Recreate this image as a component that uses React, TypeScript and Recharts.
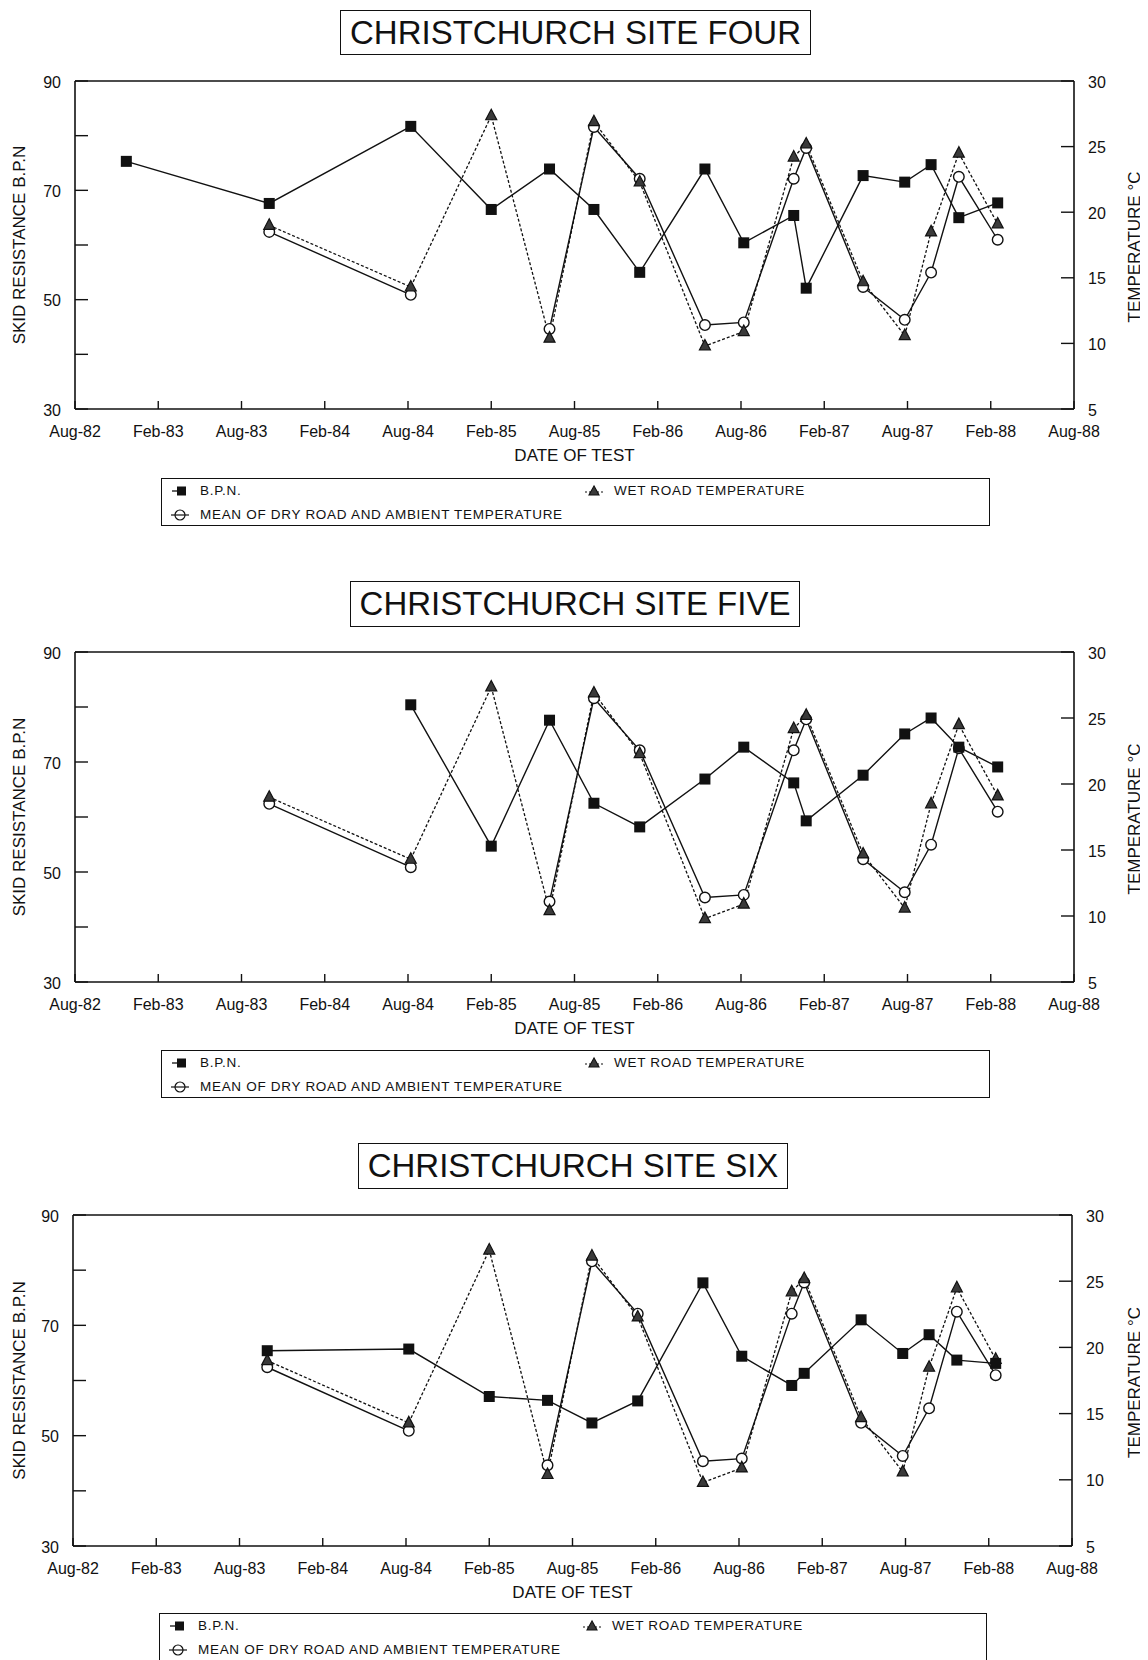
import React from "react";
import { LineChart, Line, XAxis, YAxis, ReferenceLine } from "recharts";

// 三个 Christchurch 试验点的摆值 (B.P.N) 与路面温度

// 试验日期：自 1982 年 8 月起的月数
const testMonths = [3.7, 14.0, 24.2, 30.0, 34.2, 37.4, 40.7, 45.4, 48.2, 51.8, 52.7, 56.8, 59.8, 61.7, 63.7, 66.5];

// 温度（°C），三个站点共用
const wetRoadTemp = [null, 19.0, 14.3, 27.35, 10.4, 26.9, 22.3, 9.8, 10.9, 24.2, 25.2, 14.7, 10.6, 18.5, 24.5, 19.1];
const meanDryAmbientTemp = [null, 18.5, 13.7, null, 11.1, 26.5, 22.55, 11.4, 11.6, 22.55, 24.9, 14.3, 11.8, 15.4, 22.7, 17.9];

// 各站点 B.P.N
const bpnSiteFour = [75.3, 67.6, 81.7, 66.5, 73.9, 66.5, 55.0, 73.9, 60.4, 65.4, 52.1, 72.7, 71.5, 74.7, 65.0, 67.7];
const bpnSiteFive = [null, null, 80.4, 54.7, 77.6, 62.5, 58.2, 66.9, 72.7, 66.2, 59.3, 67.6, 75.1, 78.0, 72.7, 69.1];
const bpnSiteSix = [null, 65.4, 65.7, 57.1, 56.4, 52.3, 56.3, 77.7, 64.4, 59.1, 61.3, 71.0, 64.9, 68.3, 63.7, 63.1];

// 坐标轴刻度
const monthTicks = [0, 6, 12, 18, 24, 30, 36, 42, 48, 54, 60, 66, 72];
const monthLabels = ["Aug-82", "Feb-83", "Aug-83", "Feb-84", "Aug-84", "Feb-85", "Aug-85", "Feb-86", "Aug-86", "Feb-87", "Aug-87", "Feb-88", "Aug-88"];
const bpnTicks = [30, 40, 50, 60, 70, 80, 90];
const bpnLabelled = [30, 50, 70, 90];
const tempTicks = [5, 10, 15, 20, 25, 30];

const INK = "#111";
const FONT = '"Liberation Sans", Arial, Helvetica, sans-serif';
const PAGE_OFF = 8; // body 默认 margin
const CHART_W = 1140; // 从页面 x=8 一直画到 1148
const TOP_PAD = 20;
const X_AXIS_H = 60;

interface PanelCfg {
  title: string;
  bpn: (number | null)[];
  titleBox: { left: number; top: number; width: number; height: number };
  plot: { left: number; right: number; top: number; bottom: number };
  legend: { left: number; top: number; width: number; height: number };
}

// 页面坐标（像素）
const panels: PanelCfg[] = [
  {
    title: "CHRISTCHURCH SITE FOUR",
    bpn: bpnSiteFour,
    titleBox: { left: 340, top: 10, width: 471, height: 45 },
    plot: { left: 75, right: 1074, top: 81, bottom: 409 },
    legend: { left: 161, top: 478, width: 829, height: 48 },
  },
  {
    title: "CHRISTCHURCH SITE FIVE",
    bpn: bpnSiteFive,
    titleBox: { left: 350, top: 581, width: 450, height: 46 },
    plot: { left: 75, right: 1074, top: 652, bottom: 982 },
    legend: { left: 161, top: 1050, width: 829, height: 48 },
  },
  {
    title: "CHRISTCHURCH SITE SIX",
    bpn: bpnSiteSix,
    titleBox: { left: 358, top: 1143, width: 430, height: 46 },
    plot: { left: 73, right: 1072, top: 1215, bottom: 1546 },
    legend: { left: 159, top: 1613, width: 828, height: 48 },
  },
];

function MonthTick(props: any) {
  const { x, y, payload } = props;
  const i = monthTicks.indexOf(payload.value);
  return (
    <g>
      <line x1={x} x2={x} y1={y} y2={y - 8} stroke={INK} strokeWidth={1.4} />
      <text x={x} y={y + 22} textAnchor="middle" dominantBaseline="central" fontSize={16} fontFamily={FONT} fill={INK}>
        {monthLabels[i]}
      </text>
    </g>
  );
}

function BpnTick(props: any) {
  const { x, y, payload } = props;
  const v = payload.value;
  return (
    <g>
      <line x1={x} x2={x + 13} y1={y} y2={y} stroke={INK} strokeWidth={1.4} />
      {bpnLabelled.includes(v) && (
        <text x={x - 14} y={y + 1} textAnchor="end" dominantBaseline="central" fontSize={16} fontFamily={FONT} fill={INK}>
          {v}
        </text>
      )}
    </g>
  );
}

function TempTick(props: any) {
  const { x, y, payload } = props;
  return (
    <g>
      <line x1={x} x2={x - 13} y1={y} y2={y} stroke={INK} strokeWidth={1.4} />
      <text x={x + 14} y={y + 1} textAnchor="start" dominantBaseline="central" fontSize={16} fontFamily={FONT} fill={INK}>
        {payload.value}
      </text>
    </g>
  );
}

function squareDot(p: any) {
  const { cx, cy, key } = p;
  if (cx == null || cy == null) return <g key={key} />;
  return <rect key={key} x={cx - 5.5} y={cy - 5.5} width={11} height={11} fill={INK} />;
}

function triangleDot(p: any) {
  const { cx, cy, key } = p;
  if (cx == null || cy == null) return <g key={key} />;
  return (
    <polygon
      key={key}
      points={`${cx},${cy - 6.5} ${cx - 5.5},${cy + 4} ${cx + 5.5},${cy + 4}`}
      fill="#3a3a3a"
      stroke={INK}
      strokeWidth={1.2}
    />
  );
}

function circleDot(p: any) {
  const { cx, cy, key } = p;
  if (cx == null || cy == null) return <g key={key} />;
  return <circle key={key} cx={cx} cy={cy} r={5.3} fill="#fff" stroke={INK} strokeWidth={1.4} />;
}

// 图例中的小图标：短线 + 标记
function LegendIcon({ kind }: { kind: "bpn" | "wet" | "mean" }) {
  return (
    <svg width={20} height={14} style={{ display: "block" }}>
      {kind === "bpn" && (
        <>
          <line x1={2} x2={12} y1={7} y2={7} stroke={INK} strokeWidth={1.3} />
          <rect x={7} y={2.5} width={9} height={9} fill={INK} />
        </>
      )}
      {kind === "wet" && (
        <>
          <line x1={1} x2={19} y1={8} y2={8} stroke={INK} strokeWidth={1.2} strokeDasharray="2 2" />
          <polygon points="10,2 5,11 15,11" fill="#3a3a3a" stroke={INK} strokeWidth={1.1} />
        </>
      )}
      {kind === "mean" && (
        <>
          <line x1={1} x2={19} y1={7} y2={7} stroke={INK} strokeWidth={1.2} />
          <circle cx={10} cy={7} r={5} fill="none" stroke={INK} strokeWidth={1.2} />
        </>
      )}
    </svg>
  );
}

function LegendRow({ kind, text, left, top }: { kind: "bpn" | "wet" | "mean"; text: string; left: number; top: number }) {
  const txt: React.CSSProperties = {
    fontSize: 13.5,
    letterSpacing: 0.7,
    fontFamily: FONT,
    color: INK,
    lineHeight: "14px",
    whiteSpace: "nowrap",
  };
  return (
    <div style={{ position: "absolute", left, top: top - 7, display: "flex", alignItems: "center" }}>
      <LegendIcon kind={kind} />
      <span style={{ ...txt, marginLeft: 10 }}>{text}</span>
    </div>
  );
}

function SitePanel({ cfg }: { cfg: PanelCfg }) {
  const data = testMonths.map((m, i) => ({
    month: m,
    bpn: cfg.bpn[i],
    wet: wetRoadTemp[i],
    mean: meanDryAmbientTemp[i],
  }));
  const plotH = cfg.plot.bottom - cfg.plot.top;
  const chartTop = cfg.plot.top - TOP_PAD - PAGE_OFF;
  const chartH = TOP_PAD + plotH + X_AXIS_H;
  const leftW = cfg.plot.left - PAGE_OFF;
  const rightW = PAGE_OFF + CHART_W - cfg.plot.right;
  const midY = TOP_PAD + plotH / 2;
  const midX = (cfg.plot.left + cfg.plot.right) / 2 - PAGE_OFF;
  const rightTitleX = 1134 - PAGE_OFF;

  const titleStyle = { fontSize: 17, fontFamily: FONT, fill: INK } as const;

  return (
    <>
      {/* 标题框 */}
      <div
        style={{
          position: "absolute",
          left: cfg.titleBox.left - PAGE_OFF,
          top: cfg.titleBox.top - PAGE_OFF,
          width: cfg.titleBox.width,
          height: cfg.titleBox.height,
          boxSizing: "border-box",
          border: `1.5px solid ${INK}`,
          display: "flex",
          alignItems: "center",
          justifyContent: "center",
          fontFamily: FONT,
          fontSize: 33,
          color: INK,
          whiteSpace: "nowrap",
        }}
      >
        {cfg.title}
      </div>

      <div style={{ position: "absolute", left: 0, top: chartTop }}>
        <LineChart width={CHART_W} height={chartH} data={data} margin={{ top: TOP_PAD, right: 0, bottom: 0, left: 0 }}>
          <XAxis
            dataKey="month"
            type="number"
            domain={[0, 72]}
            ticks={monthTicks}
            interval={0}
            height={X_AXIS_H}
            tickSize={0}
            tickMargin={0}
            tickLine={false}
            tick={<MonthTick />}
            axisLine={{ stroke: INK, strokeWidth: 1.6 }}
            label={() => (
              <text x={midX} y={TOP_PAD + plotH + 46} textAnchor="middle" dominantBaseline="central" {...titleStyle}>
                DATE OF TEST
              </text>
            )}
          />
          <YAxis
            yAxisId="left"
            orientation="left"
            type="number"
            domain={[30, 90]}
            ticks={bpnTicks}
            interval={0}
            width={leftW}
            tickSize={0}
            tickMargin={0}
            tickLine={false}
            tick={<BpnTick />}
            axisLine={{ stroke: INK, strokeWidth: 1.6 }}
            label={() => (
              <text
                x={11}
                y={midY}
                transform={`rotate(-90 11 ${midY})`}
                textAnchor="middle"
                dominantBaseline="central"
                {...titleStyle}
              >
                SKID RESISTANCE B.P.N
              </text>
            )}
          />
          <YAxis
            yAxisId="right"
            orientation="right"
            type="number"
            domain={[5, 30]}
            ticks={tempTicks}
            interval={0}
            width={rightW}
            tickSize={0}
            tickMargin={0}
            tickLine={false}
            tick={<TempTick />}
            axisLine={{ stroke: INK, strokeWidth: 1.6 }}
            label={() => (
              <text
                x={rightTitleX}
                y={midY + 2}
                transform={`rotate(-90 ${rightTitleX} ${midY + 2})`}
                textAnchor="middle"
                dominantBaseline="central"
                {...titleStyle}
              >
                TEMPERATURE °C
              </text>
            )}
          />
          {/* 图框上边 */}
          <ReferenceLine yAxisId="left" y={90} stroke={INK} strokeWidth={1.6} />

          <Line
            yAxisId="right"
            dataKey="mean"
            type="linear"
            stroke={INK}
            strokeWidth={1.4}
            dot={circleDot}
            activeDot={false}
            isAnimationActive={false}
          />
          <Line
            yAxisId="right"
            dataKey="wet"
            type="linear"
            stroke={INK}
            strokeWidth={1.3}
            strokeDasharray="3 2"
            connectNulls
            dot={triangleDot}
            activeDot={false}
            isAnimationActive={false}
          />
          <Line
            yAxisId="left"
            dataKey="bpn"
            type="linear"
            stroke={INK}
            strokeWidth={1.4}
            dot={squareDot}
            activeDot={false}
            isAnimationActive={false}
          />
        </LineChart>
      </div>

      {/* 图例框 */}
      <div
        style={{
          position: "absolute",
          left: cfg.legend.left - PAGE_OFF,
          top: cfg.legend.top - PAGE_OFF,
          width: cfg.legend.width,
          height: cfg.legend.height,
          boxSizing: "border-box",
          border: `1.5px solid ${INK}`,
        }}
      >
        <LegendRow kind="bpn" text="B.P.N." left={8} top={12} />
        <LegendRow kind="wet" text="WET ROAD TEMPERATURE" left={422} top={12} />
        <LegendRow kind="mean" text="MEAN OF DRY ROAD AND AMBIENT TEMPERATURE" left={8} top={36} />
      </div>
    </>
  );
}

export default function App() {
  return (
    <div style={{ position: "relative", width: 1132, height: 1652, background: "#fff", fontFamily: FONT }}>
      {panels.map((p) => (
        <SitePanel key={p.title} cfg={p} />
      ))}
    </div>
  );
}
